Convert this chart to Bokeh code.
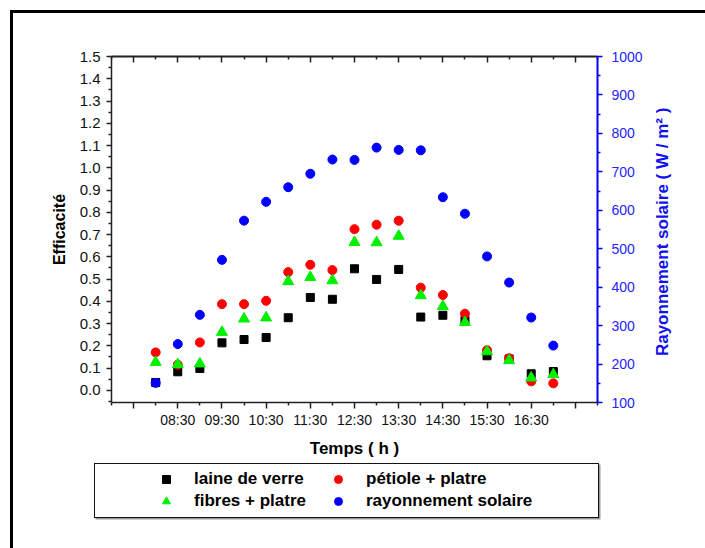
from bokeh.plotting import figure
from bokeh.layouts import column, row
from bokeh.models import (Range1d, LinearAxis, FixedTicker, Legend, LegendItem,
                          InlineStyleSheet, CustomLabelingPolicy, Title)
from bokeh.embed import file_html
from bokeh.resources import INLINE

# ---------------- data ----------------
times = ["08:00", "08:30", "09:00", "09:30", "10:00", "10:30", "11:00",
         "11:30", "12:00", "12:30", "13:00", "13:30", "14:00", "14:30",
         "15:00", "15:30", "16:00", "16:30", "17:00"]
laine_de_verre = [0.035, 0.083, 0.098, 0.213, 0.228, 0.237, 0.326, 0.417,
                  0.409, 0.546, 0.498, 0.543, 0.329, 0.337, 0.314, 0.155,
                  0.141, 0.074, 0.084]
petiole_platre = [0.170, 0.115, 0.215, 0.387, 0.387, 0.402, 0.531, 0.564,
                  0.540, 0.724, 0.744, 0.762, 0.461, 0.428, 0.344, 0.180,
                  0.144, 0.040, 0.031]
fibres_platre = [0.126, 0.116, 0.119, 0.261, 0.321, 0.326, 0.489, 0.508,
                 0.493, 0.665, 0.664, 0.693, 0.426, 0.377, 0.305, 0.174,
                 0.134, 0.056, 0.071]
rayonnement = [151, 252, 328, 471, 573, 622, 660, 695, 732, 731, 763, 757,
               756, 634, 591, 480, 412, 321, 248]

x_major = ["07:30", "08:30", "09:30", "10:30", "11:30", "12:30", "13:30",
           "14:30", "15:30", "16:30", "17:30"]
x_minor = ["07:00", "08:00", "09:00", "10:00", "11:00", "12:00", "13:00",
           "14:00", "15:00", "16:00", "17:00", "18:00"]
y_left_ticks = [0.0, 0.1, 0.2, 0.3, 0.4, 0.5, 0.6, 0.7, 0.8, 0.9, 1.0,
                1.1, 1.2, 1.3, 1.4, 1.5]
y_left_minor = [-0.05, 0.05, 0.15, 0.25, 0.35, 0.45, 0.55, 0.65, 0.75,
                0.85, 0.95, 1.05, 1.15, 1.25, 1.35, 1.45]
y_right_ticks = [100, 200, 300, 400, 500, 600, 700, 800, 900, 1000]
y_right_minor = [150, 250, 350, 450, 550, 650, 750, 850, 950]

labels = ["laine de verre", "pétiole + platre", "fibres + platre",
          "rayonnement solaire"]
right_title = "Rayonnement solaire  ( W / m² )"


def hours(s):
    h, m = s.split(":")
    return int(h) + int(m) / 60.0


x = [hours(t) for t in times]

FONT = "Liberation Sans"
BLUE = "#0000FF"
MAIN_H = 460
LEG_H = 88
MAIN_W = 645
SIDE_W = 705 - MAIN_W

# ---------------- main chart ----------------
p = figure(width=MAIN_W, height=MAIN_H, output_backend="svg",
           toolbar_location=None,
           x_range=Range1d(7.0, 18.0), y_range=Range1d(-0.055, 1.5),
           x_axis_location=None, y_axis_location=None,
           min_border_left=111, min_border_right=MAIN_W - 597,
           min_border_top=56, min_border_bottom=MAIN_H - 402)
p.extra_y_ranges = {"ray": Range1d(100, 1000)}
p.xgrid.visible = False
p.ygrid.visible = False
p.outline_line_color = None
p.background_fill_color = "white"
p.border_fill_color = "white"

xmaj = [hours(t) for t in x_major]
xmin = [hours(t) for t in x_minor]

xb = LinearAxis(ticker=FixedTicker(ticks=xmaj, minor_ticks=xmin),
                axis_label="Temps ( h )")
xb.major_label_overrides = {hours(t): t for t in x_major}
xb.major_label_policy = CustomLabelingPolicy(
    code="const all = [...indices]; return all.slice(1, all.length - 1)")
xb.axis_line_width = 1.5
xb.axis_line_color = "#222222"
xb.major_tick_line_color = "#222222"
xb.minor_tick_line_color = "#222222"
xb.major_tick_out = 6
xb.major_tick_in = 0
xb.minor_tick_out = 3
xb.minor_tick_in = 0
xb.major_tick_line_width = 1.5
xb.minor_tick_line_width = 1.5
xb.major_label_standoff = 3
xb.major_label_text_font = FONT
xb.major_label_text_font_size = "14px"
xb.major_label_text_color = "#111111"
xb.axis_label_standoff = 8
xb.axis_label_text_font = FONT
xb.axis_label_text_font_size = "17px"
xb.axis_label_text_font_style = "bold"
xb.axis_label_text_color = "black"
p.add_layout(xb, "below")

xt = LinearAxis(ticker=FixedTicker(ticks=xmaj, minor_ticks=xmin))
xt.major_label_policy = CustomLabelingPolicy(code="return []")
xt.axis_line_width = 2
xt.axis_line_color = "#222222"
xt.major_tick_line_color = "#222222"
xt.minor_tick_line_color = "#222222"
xt.major_tick_in = 6
xt.major_tick_out = 0
xt.minor_tick_in = 3
xt.minor_tick_out = 0
xt.major_tick_line_width = 1.5
xt.minor_tick_line_width = 1.5
p.add_layout(xt, "above")

yl = LinearAxis(ticker=FixedTicker(ticks=y_left_ticks, minor_ticks=y_left_minor),
                axis_label="Efficacité")
yl.major_label_overrides = {v: f"{v:.1f}" for v in y_left_ticks}
yl.axis_line_width = 1.5
yl.axis_line_color = "#222222"
yl.major_tick_line_color = "#222222"
yl.minor_tick_line_color = "#222222"
yl.major_tick_out = 5
yl.major_tick_in = 0
yl.minor_tick_out = 3
yl.minor_tick_in = 0
yl.major_tick_line_width = 1.5
yl.minor_tick_line_width = 1.5
yl.major_label_standoff = 6
yl.major_label_text_font = FONT
yl.major_label_text_font_size = "15px"
yl.major_label_text_color = "#111111"
yl.axis_label_standoff = 9
yl.axis_label_text_font = FONT
yl.axis_label_text_font_size = "16px"
yl.axis_label_text_font_style = "bold"
yl.axis_label_text_color = "black"
p.add_layout(yl, "left")

yr = LinearAxis(y_range_name="ray",
                ticker=FixedTicker(ticks=y_right_ticks, minor_ticks=y_right_minor))
yr.axis_line_width = 2
yr.axis_line_color = BLUE
yr.major_tick_line_color = BLUE
yr.minor_tick_line_color = BLUE
yr.major_tick_out = 5
yr.major_tick_in = 0
yr.minor_tick_out = 3
yr.minor_tick_in = 0
yr.major_tick_line_width = 1.5
yr.minor_tick_line_width = 1.5
yr.major_label_standoff = 9
yr.major_label_text_font = FONT
yr.major_label_text_font_size = "14px"
yr.major_label_text_color = "#2424FF"
p.add_layout(yr, "right")

p.scatter(x, laine_de_verre, marker="square", size=8, color="black")
p.scatter(x, petiole_platre, marker="circle", size=9, color="#FF0000")
p.scatter(x, fibres_platre, marker="triangle", size=11, color="#00F000")
p.scatter(x, rayonnement, marker="circle", size=9, color=BLUE,
          y_range_name="ray")

# ---------------- right-hand title strip (reads upwards) ----------------
r = figure(width=SIDE_W, height=MAIN_H, output_backend="svg",
           toolbar_location=None, x_range=Range1d(0, 1), y_range=Range1d(0, 1),
           x_axis_location=None, y_axis_location=None,
           min_border_left=26, min_border_right=0,
           min_border_top=56, min_border_bottom=MAIN_H - 402)
r.xgrid.visible = False
r.ygrid.visible = False
r.outline_line_color = None
r.background_fill_color = "white"
r.border_fill_color = "white"
r.add_layout(Title(text=right_title, align="center", standoff=0, offset=0,
                   text_font=FONT, text_font_size="17px",
                   text_font_style="bold", text_color="#1010F0"), "left")

# ---------------- legend strip ----------------
q = figure(width=705, height=LEG_H, output_backend="svg",
           toolbar_location=None, x_range=Range1d(0, 1), y_range=Range1d(0, 1),
           x_axis_location=None, y_axis_location=None,
           min_border_left=111, min_border_right=108,
           min_border_top=0, min_border_bottom=0)
q.xgrid.visible = False
q.ygrid.visible = False
q.outline_line_color = None
q.background_fill_color = "white"
q.border_fill_color = "white"

# same series (they fall outside this strip's ranges); only legend samples show
l_black = q.scatter(x, laine_de_verre, marker="square", size=8, color="black")
l_red = q.scatter(x, petiole_platre, marker="circle", size=9, color="#FF0000")
l_green = q.scatter(x, fibres_platre, marker="triangle", size=11,
                    color="#00F000")
l_blue = q.scatter(x, rayonnement, marker="circle", size=9, color=BLUE)

legend = Legend(items=[LegendItem(label=labels[0], renderers=[l_black]),
                       LegendItem(label=labels[1], renderers=[l_red]),
                       LegendItem(label=labels[2], renderers=[l_green]),
                       LegendItem(label=labels[3], renderers=[l_blue])],
                location=(45, 37), orientation="horizontal", ncols=2,
                padding=0, margin=0, spacing=2,
                glyph_width=20, glyph_height=20, label_standoff=18,
                label_width=132, label_height=20,
                border_line_alpha=0, background_fill_alpha=0,
                label_text_font=FONT, label_text_font_size="17px",
                label_text_font_style="bold", label_text_color="black")
q.add_layout(legend, "center")
q.stylesheets = [InlineStyleSheet(css="""
:host { position: relative; }
:host::after { content: ""; position: absolute; left: 93.5px; top: %.1fpx;
  width: 505px; height: 55px; box-sizing: border-box;
  border: 1.3px solid #111111; box-shadow: 1.5px 1.5px 0 #9a9a9a;
  pointer-events: none; z-index: 5; }
""" % (462.5 - MAIN_H))]

page = column(row(p, r, spacing=0), q, spacing=0)
page.stylesheets = [InlineStyleSheet(css="""
:host { position: relative; }
:host::before { content: ""; position: absolute; left: 9.5px; top: 10px;
  right: 0; bottom: 0; border-style: solid; border-color: black;
  border-width: 3px 0 0 3px; pointer-events: none; z-index: 5; }
""")]

open("out.html", "w").write(file_html(page, INLINE))
